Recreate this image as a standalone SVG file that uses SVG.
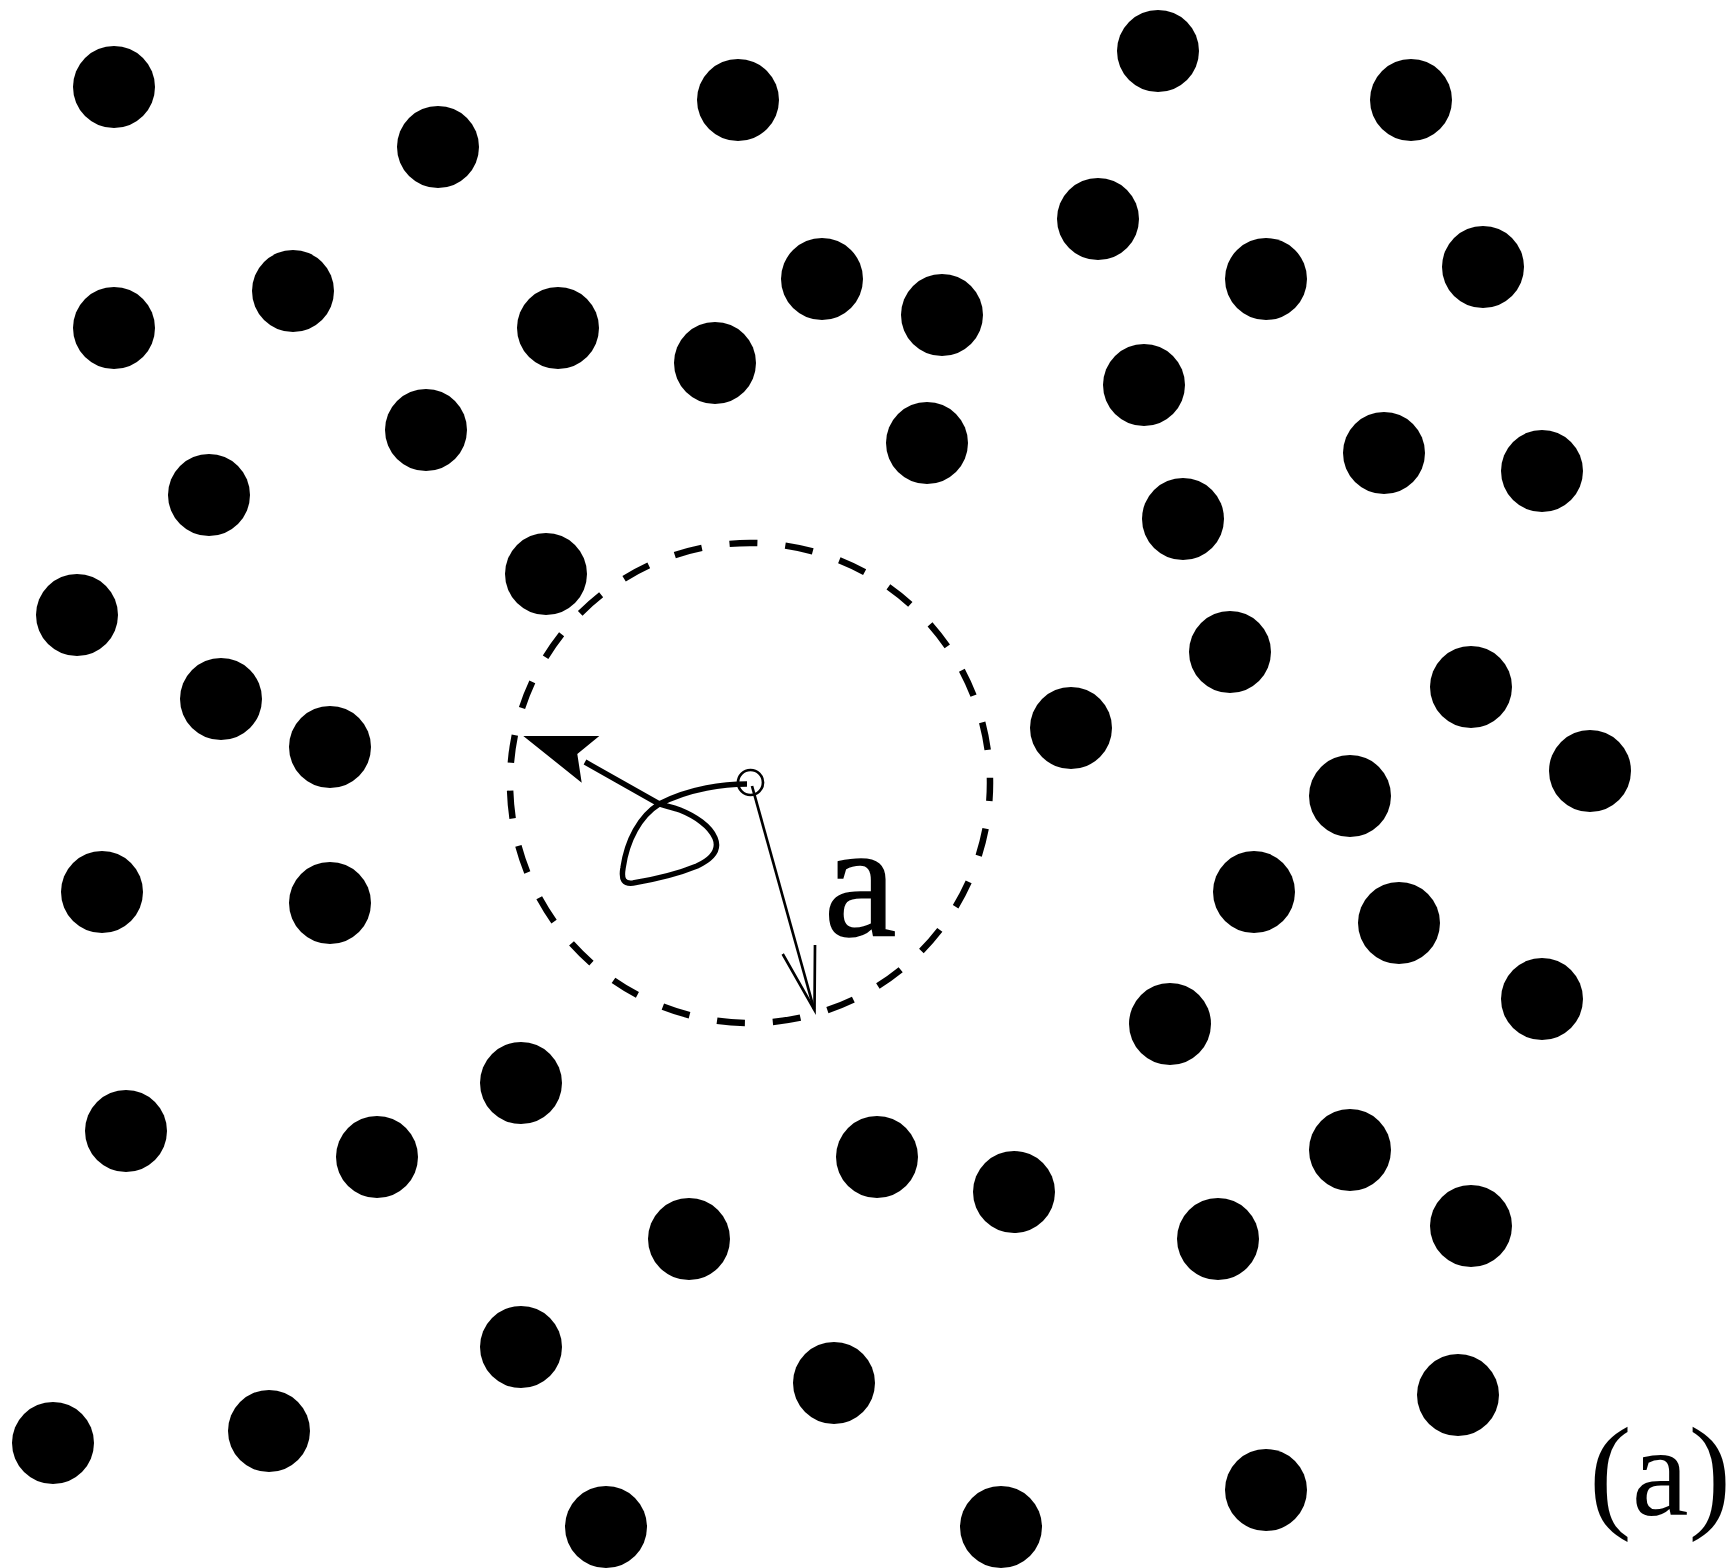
<svg xmlns="http://www.w3.org/2000/svg" width="1735" height="1568" viewBox="0 0 1735 1568">
<style>
.p{fill:#000}
.t{font-family:"Liberation Serif","Times New Roman",Times,serif;fill:#000}
</style>
<rect width="1735" height="1568" fill="#fff"/>
<g id="particles">
<circle class="p" cx="114" cy="87" r="41"/>
<circle class="p" cx="438" cy="147" r="41"/>
<circle class="p" cx="738" cy="100" r="41"/>
<circle class="p" cx="1158" cy="51" r="41"/>
<circle class="p" cx="1411" cy="100" r="41"/>
<circle class="p" cx="293" cy="291" r="41"/>
<circle class="p" cx="114" cy="328" r="41"/>
<circle class="p" cx="558" cy="328" r="41"/>
<circle class="p" cx="822" cy="279" r="41"/>
<circle class="p" cx="942" cy="315" r="41"/>
<circle class="p" cx="715" cy="363" r="41"/>
<circle class="p" cx="1098" cy="219" r="41"/>
<circle class="p" cx="1266" cy="279" r="41"/>
<circle class="p" cx="1483" cy="267" r="41"/>
<circle class="p" cx="426" cy="430" r="41"/>
<circle class="p" cx="927" cy="443" r="41"/>
<circle class="p" cx="1144" cy="385" r="41"/>
<circle class="p" cx="209" cy="495" r="41"/>
<circle class="p" cx="1384" cy="453" r="41"/>
<circle class="p" cx="1542" cy="471" r="41"/>
<circle class="p" cx="1183" cy="519" r="41"/>
<circle class="p" cx="546" cy="574" r="41"/>
<circle class="p" cx="77" cy="615" r="41"/>
<circle class="p" cx="1230" cy="652" r="41"/>
<circle class="p" cx="221" cy="699" r="41"/>
<circle class="p" cx="330" cy="747" r="41"/>
<circle class="p" cx="1071" cy="728" r="41"/>
<circle class="p" cx="1471" cy="687" r="41"/>
<circle class="p" cx="1590" cy="771" r="41"/>
<circle class="p" cx="1350" cy="796" r="41"/>
<circle class="p" cx="102" cy="892" r="41"/>
<circle class="p" cx="330" cy="903" r="41"/>
<circle class="p" cx="1254" cy="892" r="41"/>
<circle class="p" cx="1399" cy="923" r="41"/>
<circle class="p" cx="1542" cy="999" r="41"/>
<circle class="p" cx="1170" cy="1024" r="41"/>
<circle class="p" cx="521" cy="1083" r="41"/>
<circle class="p" cx="126" cy="1131" r="41"/>
<circle class="p" cx="377" cy="1157" r="41"/>
<circle class="p" cx="877" cy="1157" r="41"/>
<circle class="p" cx="1014" cy="1192" r="41"/>
<circle class="p" cx="1350" cy="1150" r="41"/>
<circle class="p" cx="689" cy="1239" r="41"/>
<circle class="p" cx="1218" cy="1239" r="41"/>
<circle class="p" cx="1471" cy="1226" r="41"/>
<circle class="p" cx="521" cy="1347" r="41"/>
<circle class="p" cx="834" cy="1383" r="41"/>
<circle class="p" cx="1458" cy="1395" r="41"/>
<circle class="p" cx="53" cy="1443" r="41"/>
<circle class="p" cx="269" cy="1431" r="41"/>
<circle class="p" cx="606" cy="1527" r="41"/>
<circle class="p" cx="1001" cy="1527" r="41"/>
<circle class="p" cx="1266" cy="1490" r="41"/>
</g>
<g id="cage">
<circle cx="750" cy="783" r="240" fill="none" stroke="#000" stroke-width="6.5" stroke-dasharray="28 28" stroke-dashoffset="10"/>
</g>
<g id="tracer">
<circle cx="750.5" cy="782.5" r="12.5" fill="none" stroke="#000" stroke-width="2.7"/>
</g>
<g id="connectors">
<path d="M747,784 C725,784 690,788 659.3,804 C640,816 627,840 623,868 C621,880 624,884 633,883 C645,881 675,875 697,866 C712,859 720,850 715,838 C710,826 695,816 680,810 C672,807 665,806 659.3,804 L585,762" fill="none" stroke="#000" stroke-width="5.5" stroke-linejoin="round"/>
<polygon points="523.3,736 599.3,736 577.3,754 581.7,782.7" fill="#000"/>
<line x1="752" y1="786" x2="814" y2="1009" stroke="#000" stroke-width="2.7"/>
<polyline points="815,945 814.5,1010 782.7,954" fill="none" stroke="#000" stroke-width="2.7"/>
</g>
<g id="labels">
<text class="t" x="824" y="935" font-size="163" stroke="#000" stroke-width="1.5">a</text>
<text class="t" x="1589" y="1515" font-size="128">(a)</text>
</g>
</svg>
